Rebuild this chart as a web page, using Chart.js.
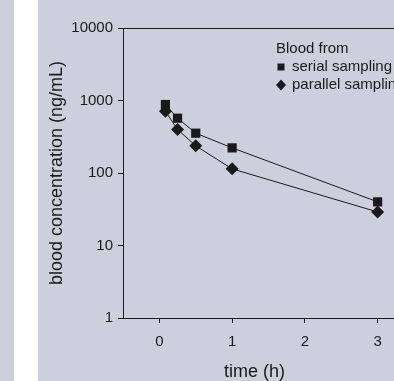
<!DOCTYPE html>
<html>
<head>
<meta charset="utf-8">
<script src="https://cdn.jsdelivr.net/npm/chart.js@4/dist/chart.umd.min.js"></script>
<style>
  html, body { margin: 0; padding: 0; background: #ffffff; width: 394px; height: 381px; overflow: hidden; }
  #strip { position: absolute; left: 0; top: 0; width: 14px; height: 381px; background: #cdd0dc; }
  #panel { position: absolute; left: 38px; top: 0; width: 356px; height: 381px; background: #cdd0dc; overflow: hidden; }
  canvas { position: absolute; left: 0; top: 0; }
</style>
</head>
<body>
<div id="strip"></div>
<div id="panel"><canvas id="c" width="420" height="381" style="width:420px;height:381px"></canvas></div>
<script>
// ---- data ----
const times = [0.083, 0.25, 0.5, 1, 3];
const serialValues = [880, 570, 354, 222, 40];
const parallelValues = [710, 398, 237, 114, 29];
const seriesLabels = ['serial sampling', 'parallel sampling'];
const legendTitle = 'Blood from';
const xTicks = [0, 1, 2, 3];
const yTicks = [1, 10, 100, 1000, 10000];
const xTitle = 'time (h)';
const yTitle = 'blood concentration (ng/mL)';

const FONT = "'Liberation Sans', Arial, Helvetica, sans-serif";
const INK = '#1a1a1a';

function pts(xs, ys) { return xs.map((x, i) => ({ x: x, y: ys[i] })); }

const legendPlugin = {
  id: 'customLegend',
  afterDraw(chart) {
    const ctx = chart.ctx;
    const ca = chart.chartArea;
    const x0 = ca.left + 153;
    const y0 = ca.top + 21;
    ctx.save();
    ctx.fillStyle = INK;
    ctx.font = '15px ' + FONT;
    ctx.textBaseline = 'middle';
    ctx.textAlign = 'left';
    ctx.fillText(legendTitle, x0, y0);
    chart.data.datasets.forEach((ds, i) => {
      const cy = y0 + 18 * (i + 1);
      const cx = x0 + 5;
      ctx.beginPath();
      if (ds.pointStyle === 'rect') {
        ctx.rect(cx - 3.5, cy - 3.5, 7, 7);
      } else {
        ctx.moveTo(cx, cy - 5.5);
        ctx.lineTo(cx + 5, cy);
        ctx.lineTo(cx, cy + 5.5);
        ctx.lineTo(cx - 5, cy);
        ctx.closePath();
      }
      ctx.fill();
      ctx.fillText(ds.label, x0 + 16, cy);
    });
    // x-axis title (centred on the visible part of the axis, as in the source figure)
    ctx.font = '18px ' + FONT;
    ctx.textAlign = 'center';
    ctx.fillText(xTitle, ca.left + 131.5, chart.height - 8.5);
    ctx.restore();
  }
};

new Chart(document.getElementById('c'), {
  type: 'scatter',
  data: {
    datasets: [
      {
        label: seriesLabels[0],
        data: pts(times, serialValues),
        showLine: true,
        borderColor: INK,
        borderWidth: 1,
        backgroundColor: INK,
        pointStyle: 'rect',
        pointRadius: 6.5,
        pointBorderWidth: 0,
        pointBackgroundColor: INK
      },
      {
        label: seriesLabels[1],
        data: pts(times, parallelValues),
        showLine: true,
        borderColor: INK,
        borderWidth: 1,
        backgroundColor: INK,
        pointStyle: 'rectRot',
        pointRadius: 6.5,
        pointBorderWidth: 0,
        pointBackgroundColor: INK
      }
    ]
  },
  options: {
    responsive: false,
    devicePixelRatio: 1,
    animation: false,
    events: [],
    layout: { padding: { left: 0, right: 44, top: 0, bottom: 0 } },
    plugins: { legend: { display: false }, tooltip: { enabled: false } },
    scales: {
      x: {
        type: 'linear',
        position: 'bottom',
        min: -0.5,
        max: 3.5,
        afterBuildTicks(scale) { scale.ticks = xTicks.map(v => ({ value: v })); },
        afterFit(scale) { scale.height = 63; },
        ticks: { color: INK, font: { family: FONT, size: 15 }, padding: 10, maxRotation: 0, callback: v => String(v) },
        grid: { drawOnChartArea: false, drawTicks: true, tickLength: 5, tickColor: INK, color: INK },
        border: { display: true, color: INK, width: 1 },
        title: { display: false }
      },
      x2: {
        type: 'linear',
        position: 'top',
        min: -0.5,
        max: 3.5,
        afterBuildTicks(scale) { scale.ticks = []; },
        afterFit(scale) { scale.height = 28; },
        ticks: { display: false },
        grid: { display: false, drawTicks: false },
        border: { display: true, color: INK, width: 1 }
      },
      y: {
        type: 'logarithmic',
        position: 'left',
        min: 1,
        max: 10000,
        afterBuildTicks(scale) { scale.ticks = yTicks.map(v => ({ value: v })); },
        afterFit(scale) { scale.width = 85; },
        ticks: { color: INK, font: { family: FONT, size: 15 }, padding: 5, callback: v => String(v) },
        grid: { drawOnChartArea: false, drawTicks: true, tickLength: 5, tickColor: INK, color: INK },
        border: { display: true, color: INK, width: 1 },
        title: { display: true, text: yTitle, color: INK, font: { family: FONT, size: 18 }, padding: { top: 8, bottom: 0 } }
      }
    }
  },
  plugins: [legendPlugin]
});
</script>
</body>
</html>
